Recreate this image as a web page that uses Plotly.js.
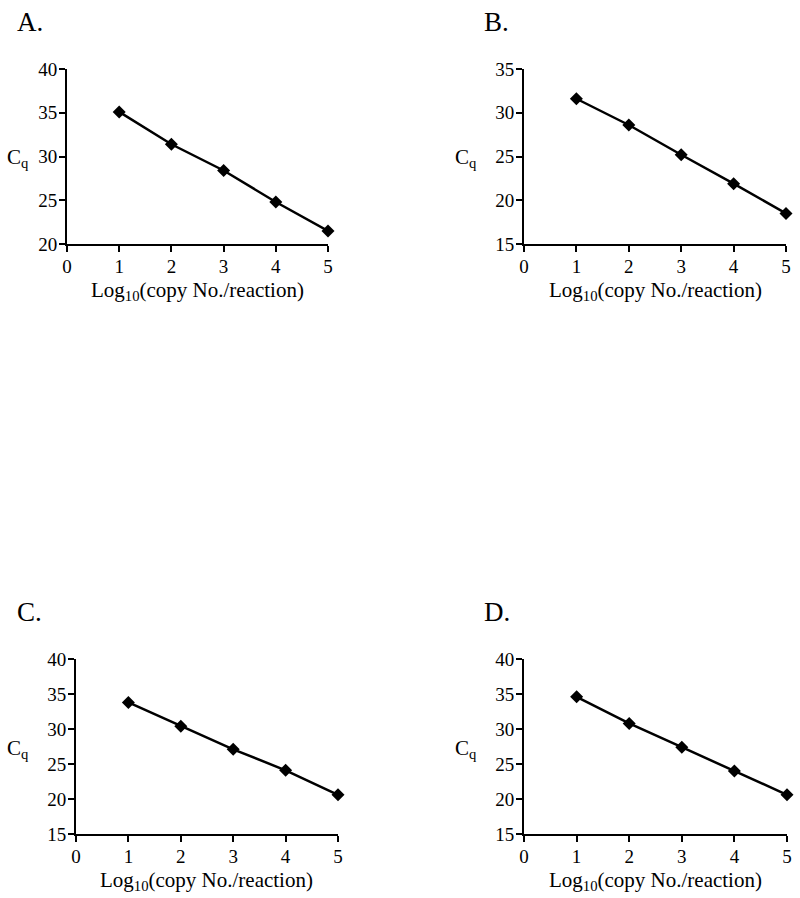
<!DOCTYPE html>
<html>
<head>
<meta charset="utf-8">
<script src="https://cdn.plot.ly/plotly-3.0.1.min.js"></script>
<style>html,body{margin:0;padding:0;background:#fff;}#chart{width:800px;height:898px;}</style>
</head>
<body>
<div id="chart"></div>
<script>
const logCopies = [1, 2, 3, 4, 5];
const cqA = [35.1, 31.4, 28.4, 24.8, 21.5];
const cqB = [31.6, 28.6, 25.2, 21.9, 18.5];
const cqC = [33.8, 30.4, 27.1, 24.1, 20.6];
const cqD = [34.6, 30.8, 27.4, 24.0, 20.6];
const panelLabels = ["A.", "B.", "C.", "D."];
const yRanges = [[20, 40], [15, 35], [15, 40], [15, 40]];
const xTitle = "Log<sub>10</sub>(copy No./reaction)";
const yTitle = "C<sub>q</sub>";

const W = 800, H = 898;
const FONT = "Liberation Serif, Times New Roman, serif";
const px = v => v / W;
const py = v => 1 - v / H;

// plot boxes in pixels: [left, right, top, bottom]
const boxes = [
  [67, 328, 69, 244],
  [524, 786, 69, 244],
  [76, 338, 659, 834],
  [524, 787, 659, 834]
];
const series = [cqA, cqB, cqC, cqD];

const data = [];
const layout = {
  width: W, height: H,
  margin: {l: 0, r: 0, t: 0, b: 0},
  paper_bgcolor: "#fff", plot_bgcolor: "#fff",
  showlegend: false,
  font: {family: FONT, color: "#000", size: 19},
  annotations: []
};

series.forEach((ys, i) => {
  const n = i === 0 ? "" : String(i + 1);
  const b = boxes[i];
  data.push({
    x: logCopies, y: ys, xaxis: "x" + n, yaxis: "y" + n,
    type: "scatter", mode: "lines+markers", cliponaxis: false,
    line: {color: "#000", width: 2.5},
    marker: {symbol: "diamond", size: 10, color: "#000"}
  });
  const axCommon = {
    showline: true, linewidth: 2, linecolor: "#000",
    ticks: "outside", ticklen: 6, tickwidth: 2, tickcolor: "#000",
    showgrid: false, zeroline: false, fixedrange: true,
    tickfont: {family: FONT, size: 19, color: "#000"}
  };
  layout["xaxis" + n] = Object.assign({}, axCommon, {
    domain: [px(b[0]), px(b[1])], range: [0, 5], tickmode: "linear", tick0: 0, dtick: 1,
    anchor: "y" + n, ticklabelstandoff: -2
  });
  layout["yaxis" + n] = Object.assign({}, axCommon, {
    domain: [py(b[3]), py(b[2])], range: yRanges[i], tickmode: "linear", tick0: 0, dtick: 5,
    anchor: "x" + n, ticklabelstandoff: -2
  });
  // panel letter
  layout.annotations.push({
    xref: "paper", yref: "paper", x: px(i % 2 === 0 ? 15 : 482), y: py(b[2] - 47),
    xanchor: "left", yanchor: "middle", showarrow: false,
    text: panelLabels[i], font: {family: FONT, size: 27, color: "#000"}
  });
  // x title
  layout.annotations.push({
    xref: "paper", yref: "paper", x: px((b[0] + b[1]) / 2), y: py(b[3] + 47),
    xanchor: "center", yanchor: "middle", showarrow: false,
    text: xTitle, font: {family: FONT, size: 21, color: "#000"}
  });
  // y title
  layout.annotations.push({
    xref: "paper", yref: "paper", x: px(i % 2 === 0 ? 5 : 453), y: py((b[2] + b[3]) / 2 + 2),
    xanchor: "left", yanchor: "middle", showarrow: false,
    text: yTitle, font: {family: FONT, size: 21, color: "#000"}
  });
});

Plotly.newPlot("chart", data, layout, {displayModeBar: false, staticPlot: true});
</script>
</body>
</html>
